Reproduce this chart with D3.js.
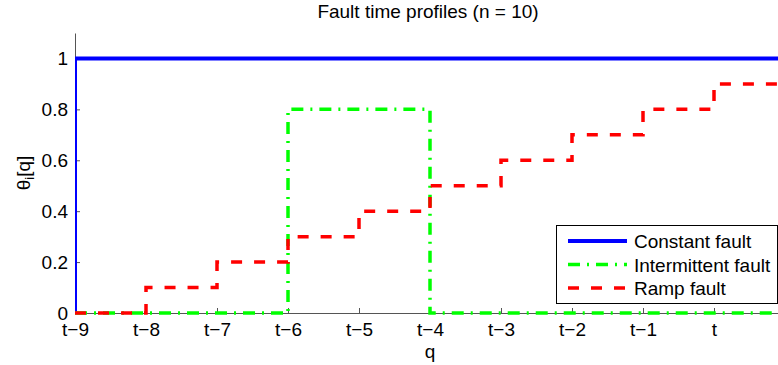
<!DOCTYPE html>
<html><head><meta charset="utf-8">
<script src="https://cdn.jsdelivr.net/npm/d3@7"></script>
<style>
html,body{margin:0;padding:0;background:#fff;overflow:hidden;}
svg{display:block;font-family:"Liberation Sans",Arial,Helvetica,sans-serif;}
</style></head>
<body><svg id="c" width="778" height="365"></svg>
<script>
// ---- data ----
const qValues = [-9, -8, -7, -6, -5, -4, -3, -2, -1, 0];
const qLabels = ["t\u22129","t\u22128","t\u22127","t\u22126","t\u22125","t\u22124","t\u22123","t\u22122","t\u22121","t"];
const constantFault = [1, 1, 1, 1, 1, 1, 1, 1, 1, 1];
const intermittentFault = [0, 0, 0, 0.8, 0.8, 0, 0, 0, 0, 0];
const rampFault = [0, 0.1, 0.2, 0.3, 0.4, 0.5, 0.6, 0.7, 0.8, 0.9];
const yTicks = [0, 0.2, 0.4, 0.6, 0.8, 1];
const seriesNames = ["Constant fault", "Intermittent fault", "Ramp fault"];
const xDomain = [-9, 1];
const yDomain = [0, 1.1];
const baseline = 0;

const svg = d3.select("#c");
const mLeft = 75, mRight = 785, mTop = 33, mBottom = 313;
const x = d3.scaleLinear().domain(xDomain).range([mLeft, mRight]);
const y = d3.scaleLinear().domain(yDomain).range([mBottom, mTop]);
const FS = 19;

svg.append("defs").append("clipPath").attr("id","clip")
  .append("rect").attr("x", mLeft).attr("y", mTop - 5).attr("width", mRight - mLeft).attr("height", mBottom - mTop + 10);

// axes
const xAxis = d3.axisBottom(x).tickValues(qValues)
  .tickFormat(d => qLabels[qValues.indexOf(d)])
  .tickSizeInner(-5).tickSizeOuter(0).tickPadding(9);
const yAxis = d3.axisLeft(y).tickValues(yTicks)
  .tickFormat(d => d3.format("")(d))
  .tickSizeInner(-5).tickSizeOuter(0).tickPadding(7);

const gx = svg.append("g").attr("transform", `translate(0,${mBottom})`).call(xAxis);
const gy = svg.append("g").attr("transform", `translate(${mLeft},0)`).call(yAxis);
[gx, gy].forEach(g => {
  g.selectAll("path.domain").attr("stroke", "#555").attr("stroke-width", 1);
  g.selectAll(".tick line").attr("stroke", "#555").attr("stroke-width", 1);
  g.selectAll(".tick text").attr("fill", "#000").attr("font-size", FS)
    .attr("font-family", "'Liberation Sans',Arial,sans-serif");
});
gx.selectAll(".tick text").attr("dy", "0.74em");

// series
const line = d3.line().x(d => x(d[0])).y(d => y(d[1])).curve(d3.curveStepAfter);
function pts(vals) {
  const p = [[qValues[0], baseline]];
  qValues.forEach((q, i) => p.push([q, vals[i]]));
  p.push([xDomain[1], vals[vals.length - 1]]);
  return p;
}
const styles = [
  {vals: constantFault, color: "#0000ff", w: 4, dash: null},
  {vals: intermittentFault, color: "#00ff00", w: 3.5, dash: "12,7,2,7"},
  {vals: rampFault, color: "#ff0000", w: 3.5, dash: "11,12"}
];
const plot = svg.append("g").attr("clip-path", "url(#clip)");
styles.forEach(s => {
  plot.append("path").attr("d", line(pts(s.vals)))
    .attr("fill", "none").attr("stroke", s.color).attr("stroke-width", s.w)
    .attr("stroke-dasharray", s.dash);
});

// title & labels
svg.append("text").attr("x", 428).attr("y", 18).attr("text-anchor", "middle")
  .attr("font-size", FS).text("Fault time profiles (n = 10)");
svg.append("text").attr("x", 430).attr("y", 358).attr("text-anchor", "middle")
  .attr("font-size", FS).text("q");
const yl = svg.append("text").attr("transform", "translate(30,173) rotate(-90)")
  .attr("text-anchor", "middle").attr("font-size", FS);
yl.append("tspan").text("\u03b8");
yl.append("tspan").attr("font-size", 13).attr("dy", 4).text("i");
yl.append("tspan").attr("dy", -4).text("[q]");

// legend
const lg = svg.append("g");
lg.append("rect").attr("x", 556.5).attr("y", 225.5).attr("width", 221).attr("height", 78)
  .attr("fill", "#fff").attr("stroke", "#000").attr("stroke-width", 1);
const rowY = [241, 264.5, 288];
styles.forEach((s, i) => {
  lg.append("line").attr("x1", 568).attr("x2", 627).attr("y1", rowY[i]).attr("y2", rowY[i])
    .attr("stroke", s.color).attr("stroke-width", s.w).attr("stroke-dasharray", s.dash);
  lg.append("text").attr("x", 634).attr("y", rowY[i] + 7).attr("font-size", FS).text(seriesNames[i]);
});
</script></body></html>
